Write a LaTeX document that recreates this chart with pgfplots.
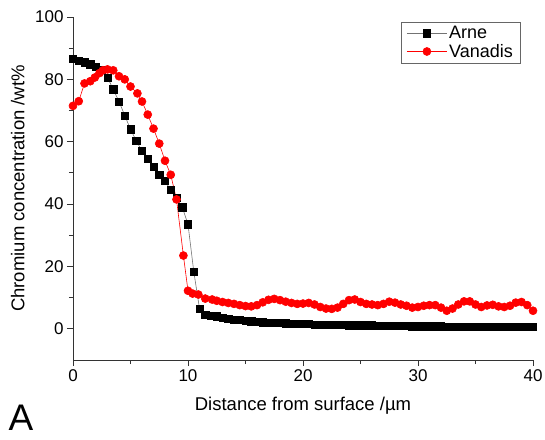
\documentclass[border=0pt]{standalone}
\usepackage{pgfplots}
\pgfplotsset{compat=1.18}
\usepackage{fontspec}
\setmainfont{Liberation Sans}

\begin{document}
\begin{tikzpicture}
\path[use as bounding box] (-73pt,-79pt) rectangle (472pt,360pt);
\begin{axis}[
    at={(0,0)}, anchor=south west,
    scale only axis,
    width=460pt, height=343pt,
    xmin=0, xmax=40,
    ymin=-10, ymax=100,
    axis x line=bottom, axis y line=left,
    axis line style={-, line width=0.9pt, black!80},
    xtick={0,10,...,40}, minor xtick={5,15,25,35},
    ytick={0,20,...,100}, minor ytick={10,30,50,70,90},
    tick align=outside,
    major tick length=6pt, minor tick length=4pt,
    tick style={line width=0.9pt, black!80},
    ticklabel style={font=\fontsize{17}{19}\selectfont},
    /pgf/number format/assume math mode=true,
    xlabel={Distance from surface /µm},
    ylabel={Chromium concentration /wt\%},
    label style={font=\fontsize{18.5}{21}\selectfont},
    xlabel style={at={(axis description cs:0.5,-0.132)}, anchor=center},
    ylabel style={at={(axis description cs:-0.12,0.5)}, anchor=center},
    legend style={at={(rel axis cs:0.972,0.985)}, anchor=north east,
        draw=black!60, font=\fontsize{18}{21}\selectfont,
        inner xsep=5pt, inner ysep=2pt, row sep=0pt},
    legend cell align=left,
    legend image code/.code={
        \draw[#1] (0pt,0pt) -- (40pt,0pt);
        \draw[#1, only marks] plot coordinates {(20pt,0pt)};
    },
    clip=false,
]
\addplot[black!55, line width=0.6pt, mark=square*, mark size=3.6pt,
    mark options={fill=black, draw=black}] coordinates {
(0,86.5) (0.5,86) (1.0,85.5) (1.5,84.8) (2.0,84) (2.5,83) (3.0,80.6) (3.5,76.8)
(4.0,72.9) (4.5,68.4) (5.0,64) (5.5,60.3) (6.0,57) (6.5,54.5) (7.0,52) (7.5,49.4)
(8.0,47.4) (8.5,44.5) (9.0,41.9) (9.5,39) (10.0,33.5) (10.5,18.4) (11.0,6.5)
(11.5,4.5) (12.0,4.2) (12.5,4.0) (13.0,3.6) (13.5,3.3) (14.0,3.0) (14.5,2.8)
(15.0,2.6) (15.5,2.4) (16.0,2.2) (16.5,2.1) (17.0,2.0) (17.5,1.9) (18.0,1.9)
(18.5,1.8) (19.0,1.7) (19.5,1.7) (20.0,1.6) (20.5,1.5) (21.0,1.4) (21.5,1.4)
(22.0,1.3) (22.5,1.3) (23.0,1.2) (23.5,1.2) (24.0,1.1) (24.5,1.1) (25.0,1.1)
(25.5,1.1) (26.0,1.1) (26.5,1.0) (27.0,1.0) (27.5,0.9) (28.0,0.9) (28.5,0.9)
(29.0,0.9) (29.5,0.8) (30.0,0.8) (30.5,0.8) (31.0,0.8) (31.5,0.8) (32.0,0.8)
(32.5,0.7) (33.0,0.7) (33.5,0.7) (34.0,0.7) (34.5,0.7) (35.0,0.7) (35.5,0.6)
(36.0,0.6) (36.5,0.6) (37.0,0.6) (37.5,0.6) (38.0,0.6) (38.5,0.6) (39.0,0.6)
(39.5,0.6) (40.0,0.6)
};
\addlegendentry{Arne}
\addplot[red, line width=0.6pt, mark=*, mark size=4pt,
    mark options={fill=red, draw=red}] coordinates {
(0,71.5) (0.5,73) (1.0,78.7) (1.5,79.4) (1.9,80.6) (2.3,82) (2.6,82.9) (3.0,83.2)
(3.5,82.9) (4.0,81) (4.5,80) (5.0,77.7) (5.6,75.5) (6.0,72.9) (6.5,68.7) (7.0,64.2)
(7.5,59.4) (8.0,53.9) (8.5,49.4) (9.0,41.5) (9.6,23.5) (10.0,12.2) (10.4,11.3)
(10.9,11) (11.5,9.7) (12.1,9.4) (12.5,9.0) (13.0,8.6) (13.5,8.3) (14.0,8.0)
(14.5,7.6) (15.0,7.3) (15.5,7.2) (16.0,7.6) (16.5,8.5) (17.0,9.3) (17.5,9.6)
(18.0,9.2) (18.5,8.7) (19.0,8.3) (19.5,8.0) (20.0,8.1) (20.5,8.3) (21.0,7.8)
(21.5,7.0) (22.0,6.5) (22.5,6.4) (23.0,6.8) (23.5,8.0) (24.0,9.2) (24.5,9.4)
(25.0,8.6) (25.5,8.0) (26.0,7.8) (26.5,7.6) (27.0,8.0) (27.5,8.7) (28.0,8.4)
(28.5,7.8) (29.0,7.4) (29.5,6.8) (30.0,7.0) (30.5,7.4) (31.0,7.6) (31.5,7.6)
(32.0,6.8) (32.5,5.8) (33.0,6.5) (33.5,7.8) (34.0,8.8) (34.5,8.8) (35.0,7.8)
(35.5,7.0) (36.0,7.5) (36.5,7.7) (37.0,7.2) (37.5,7.0) (38.0,7.4) (38.5,8.4)
(39.0,8.6) (39.5,7.6) (40.0,5.8)
};
\addlegendentry{Vanadis}
\end{axis}
\node[font=\fontsize{37}{40}\selectfont, anchor=base] at (-52pt,-70pt) {A};
\end{tikzpicture}
\end{document}
